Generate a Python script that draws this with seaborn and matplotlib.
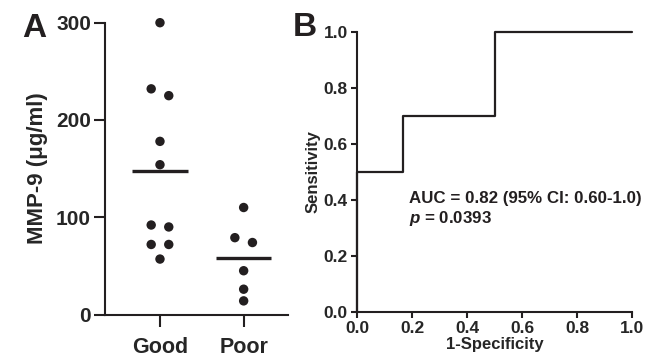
import numpy as np
import pandas as pd
import matplotlib
matplotlib.use("Agg")
import matplotlib.pyplot as plt
import seaborn as sns

# MMP-9 values (ug/ml) per outcome group
groups = ["Good", "Poor"]
good = [300, 232, 225, 178, 154, 92, 90, 72, 72, 57]
poor = [110, 79, 74, 45, 26, 14]

auc_text = "AUC = 0.82 (95% CI: 0.60-1.0)"
p_text = r"$\bfit{p}$ = 0.0393"

ink = "#231f20"

sns.set_style("ticks")
plt.rcParams["font.family"] = ["Liberation Sans", "DejaVu Sans"]
plt.rcParams["font.weight"] = "bold"
plt.rcParams["mathtext.fontset"] = "custom"
plt.rcParams["mathtext.bfit"] = "Liberation Sans:italic:bold"
plt.rcParams["mathtext.it"] = "Liberation Sans:italic:bold"


def lanes(vals, gap=10):
    # spread near-equal values sideways like a column scatter
    vals = sorted(vals, reverse=True)
    out, i = [], 0
    while i < len(vals):
        j = i
        while j + 1 < len(vals) and vals[i] - vals[j + 1] < gap:
            j += 1
        n = j - i + 1
        for k in range(n):
            out.append((vals[i + k], k - (n - 1) / 2))
        i = j + 1
    return out


rows = []
for gi, (name, vals) in enumerate(zip(groups, [good, poor])):
    for v, lane in lanes(vals):
        rows.append({"group": name, "x": gi + lane * 0.21, "y": v})
df = pd.DataFrame(rows)

# ROC: Good as positive class, higher MMP-9 -> Good
scores = np.array(good + poor)
labels = np.array([1] * len(good) + [0] * len(poor))
fpr, tpr = [0.0], [0.0]
for t in sorted(set(scores), reverse=True):
    pred = scores >= t
    tp = (pred & (labels == 1)).sum() / len(good)
    fp = (pred & (labels == 0)).sum() / len(poor)
    fpr.append(fpr[-1]); tpr.append(tp)
    fpr.append(fp); tpr.append(tp)
roc = pd.DataFrame({"fpr": fpr, "tpr": tpr})

W, H = 646, 363
fig = plt.figure(figsize=(W / 100, H / 100), dpi=100)
axA = fig.add_axes([105 / W, 1 - 314.5 / H, (288 - 105) / W, (314.5 - 22.7) / H])
axB = fig.add_axes([357 / W, 1 - 311.7 / H, (632.3 - 357) / W, (311.7 - 32) / H])

# panel A
sns.scatterplot(data=df, x="x", y="y", ax=axA, color=ink, s=46,
                edgecolor="none", legend=False, clip_on=False)
for gi, vals in enumerate([good, poor]):
    axA.hlines(np.mean(vals), gi - 0.33, gi + 0.33, color=ink, lw=2.4)
axA.set_xlim(-0.657, 1.53)
axA.set_ylim(0, 300)
axA.set_xticks(range(len(groups)))
axA.set_xticklabels(groups, fontsize=15.5, fontweight="bold")
axA.set_yticks([0, 100, 200, 300])
axA.tick_params(axis="y", labelsize=15, length=8, width=1.5, pad=2, color=ink)
axA.tick_params(axis="x", length=8.5, width=1.5, pad=8, color=ink)
axA.set_xlabel("")
axA.set_ylabel("MMP-9 (\u03bcg/ml)", fontsize=16, fontweight="bold", labelpad=6)
sns.despine(ax=axA)
for s in ["left", "bottom"]:
    axA.spines[s].set_linewidth(1.5)
    axA.spines[s].set_color(ink)

# panel B
sns.lineplot(data=roc, x="fpr", y="tpr", ax=axB, sort=False, estimator=None,
             color=ink, lw=1.6, clip_on=False)
axB.set_xlim(0, 1)
axB.set_ylim(0, 1)
axB.set_xticks(np.arange(0, 1.01, 0.2))
axB.set_yticks(np.arange(0, 1.01, 0.2))
axB.xaxis.set_major_formatter(matplotlib.ticker.FormatStrFormatter("%.1f"))
axB.yaxis.set_major_formatter(matplotlib.ticker.FormatStrFormatter("%.1f"))
axB.tick_params(labelsize=12.5, length=4.5, width=1.5, pad=2, color=ink)
axB.set_xlabel("1-Specificity", fontsize=12, fontweight="bold", labelpad=1)
axB.set_ylabel("Sensitivity", fontsize=12, fontweight="bold", labelpad=2)
sns.despine(ax=axB)
for s in ["left", "bottom"]:
    axB.spines[s].set_linewidth(1.5)
    axB.spines[s].set_color(ink)
axB.text(0.19, 0.43, auc_text + "\n" + p_text, fontsize=12.2, fontweight="bold",
         va="top", ha="left", color=ink, linespacing=1.2)

fig.text(22 / W, 1 - 37 / H, "A", fontsize=24, fontweight="bold", color=ink)
fig.text(293 / W, 1 - 36 / H, "B", fontsize=24, fontweight="bold", color=ink)

fig.savefig("out.png", dpi=100)
